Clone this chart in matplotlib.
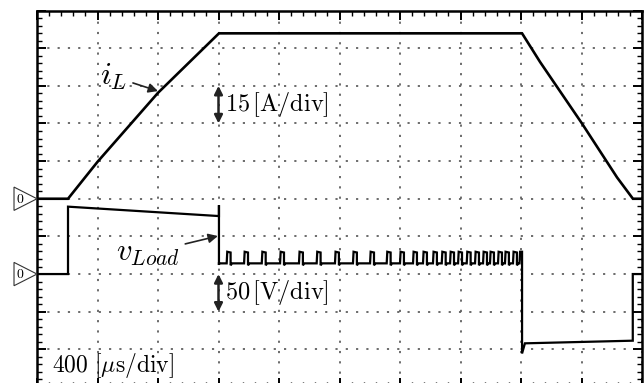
import numpy as np
import matplotlib.pyplot as plt
from matplotlib.patches import Polygon

plt.rcParams['mathtext.fontset'] = 'cm'
plt.rcParams['font.family'] = 'DejaVu Serif'

# scope settings
T_DIV = 400.0     # us/div
I_DIV = 15.0      # A/div
V_DIV = 50.0      # V/div
I_ZERO = 5.0      # div from bottom
V_ZERO = 3.0

# inductor current [us], [A]
t_il = [0, 205, 400, 800, 1203, 3207, 3326, 3603, 3835, 3940, 4000]
i_l = [0, 0, 14.7, 42.2, 65.9, 65.9, 54.5, 30.0, 8.5, 0, 0]

# load voltage, start of the waveform [us], [V]
t_v_start = [0, 205, 205, 1203, 1203, 1203]
v_start = [0, 0, 89.5, 77.0, 91.5, 12.0]

# ripple pulses on the load voltage
pulse_t = [1254, 1369, 1486, 1607, 1732, 1849, 1970, 2089, 2202, 2312,
           2400, 2486, 2552, 2618, 2676, 2731, 2784, 2841, 2896, 2949,
           2995, 3048, 3094, 3147]
v_base = 14.2
v_top = 29.6
pulse_w = 26.0

# load voltage after the current ramp-down starts
t_v_end = [3207, 3207, 3226, 3939, 3939, 4000]
v_end = [v_top, -105.5, -92.0, -88.5, 0, 0]

# build the rippled section
t_rip, v_rip = [1203], [v_base]
for tp in pulse_t:
    t_rip += [tp, tp + 4, tp + pulse_w, tp + pulse_w, tp + pulse_w + 10]
    v_rip += [v_base, v_top, v_top - 1.0, v_base - 2.5, v_base]
t_rip += [3190, 3194]
v_rip += [v_base, v_top]

t_v = np.array(t_v_start + t_rip + t_v_end)
v_l = np.array(v_start + v_rip + v_end)

x_il = np.array(t_il) / T_DIV
y_il = I_ZERO + np.array(i_l) / I_DIV
x_v = t_v / T_DIV
y_v = V_ZERO + v_l / V_DIV

fig = plt.figure(figsize=(6.44, 3.83), dpi=100)
ax = fig.add_axes([37 / 644, -4 / 383, 605 / 644, 376.5 / 383])

ax.plot(x_il, y_il, color='black', lw=1.9, solid_joinstyle='miter')
ax.plot(x_v, y_v, color='black', lw=1.6, solid_joinstyle='miter')

ax.set_xlim(0, 10)
ax.set_ylim(0, 10)
ax.set_xticks(np.arange(0, 11, 1))
ax.set_yticks(np.arange(0, 11, 1))
ax.set_xticks(np.arange(0, 10.01, 0.2), minor=True)
ax.set_yticks(np.arange(0, 10.01, 0.2), minor=True)
ax.tick_params(which='both', direction='in', top=True, right=True,
               labelbottom=False, labelleft=False, color='black')
ax.tick_params(which='major', length=6.5, width=1.4)
ax.tick_params(which='minor', length=3.5, width=1.0)
ax.grid(which='major', color='#606060', lw=1.3, linestyle=(0, (1.2, 4.5)))
for s in ax.spines.values():
    s.set_linewidth(1.8)

# channel zero markers
for y0 in (I_ZERO, V_ZERO):
    tri = Polygon([(-0.38, y0 + 0.31), (-0.38, y0 - 0.31), (0, y0)],
                  closed=True, facecolor='white', edgecolor='#333333',
                  lw=0.8, clip_on=False, zorder=5)
    ax.add_patch(tri)
    ax.text(-0.28, y0, r'$0$', fontsize=10, ha='center', va='center',
            clip_on=False, zorder=6)

# labels
arrow = dict(arrowstyle='-|>', color='#222222', lw=1.2, mutation_scale=14)
ax.annotate(r'$i_L$', xy=(2.0, 7.86), xytext=(1.27, 8.24), fontsize=23,
            ha='center', va='center', arrowprops=dict(arrow, shrinkA=2, shrinkB=0))
ax.annotate(r'$v_{Load}$', xy=(2.99, 4.01), xytext=(1.83, 3.56), fontsize=22,
            ha='center', va='center', arrowprops=dict(arrow, shrinkA=2, shrinkB=0))

dbl = dict(arrowstyle='<|-|>', color='#222222', lw=1.8, mutation_scale=12,
           shrinkA=0, shrinkB=0)
ax.annotate('', xy=(3.0, 8.0), xytext=(3.0, 7.0), arrowprops=dbl)
ax.annotate('', xy=(3.0, 3.0), xytext=(3.0, 2.0), arrowprops=dbl)
ax.text(3.11, 7.51, r'$15\,[\mathrm{A/div}]$', fontsize=17.5, ha='left', va='center')
ax.text(3.11, 2.52, r'$50\,[\mathrm{V/div}]$', fontsize=17.5, ha='left', va='center')
ax.text(0.25, 0.58, r'$400\ [\mu\mathrm{s/div}]$', fontsize=17, ha='left', va='center')

fig.savefig('out.png', dpi=100)
